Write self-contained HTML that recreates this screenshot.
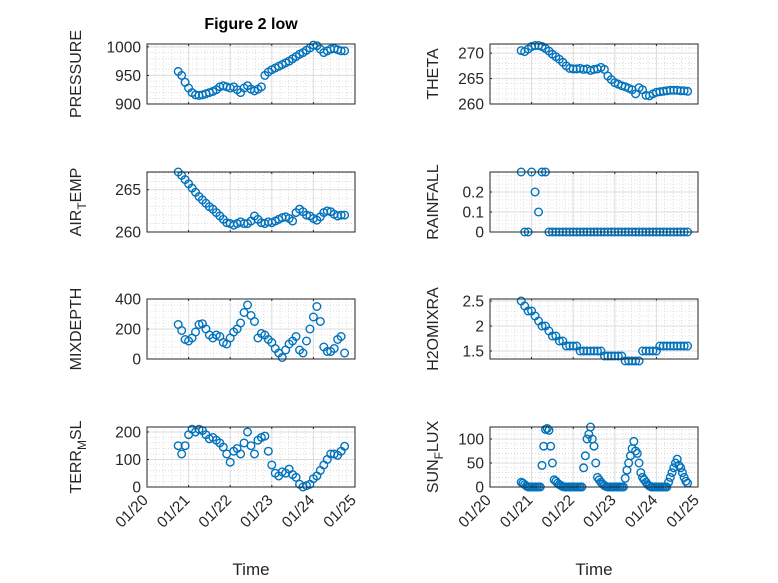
<!DOCTYPE html>
<html><head><meta charset="utf-8">
<style>
html,body{margin:0;padding:0;background:#fff;}
svg{display:block;font-family:"Liberation Sans",sans-serif;}
</style></head>
<body>
<svg id="fig" width="778" height="583" viewBox="0 0 778 583">
<text x="251" y="29" text-anchor="middle" font-size="16" font-weight="bold" fill="#000">Figure 2 low</text>
</svg>
<script>
const hours = [0,2,4,6,8,10,12,14,16,18,20,22,24,26,28,30,32,34,36,38,40,42,44,46,48,50,52,54,56,58,60,62,64,66,68,70,72,74,76,78,80,82,84,86,88,90,92,94,96];
const sunHours = [0,1,2,3,4,5,6,7,8,9,10,11,12,13,14,15,16,17,18,19,20,21,22,23,24,25,26,27,28,29,30,31,32,33,34,35,36,37,38,39,40,41,42,43,44,45,46,47,48,49,50,51,52,53,54,55,56,57,58,59,60,61,62,63,64,65,66,67,68,69,70,71,72,73,74,75,76,77,78,79,80,81,82,83,84,85,86,87,88,89,90,91,92,93,94,95,96];
const startDay = 20.75;
const dayTicks = [20,21,22,23,24,25];
const dayTickLabels = ["01/20","01/21","01/22","01/23","01/24","01/25"];

const pressure = [957,950,938,928,920,916,915,916,918,920,922,925,930,932,930,928,930,925,920,928,932,926,923,926,930,950,956,960,963,966,969,972,975,979,983,987,990,994,998,1003,1002,996,990,993,996,997,995,993,993];
const airTemp = [267.1,266.7,266.2,265.7,265.2,264.7,264.2,263.8,263.4,263.0,262.7,262.3,261.9,261.5,261.1,261.0,260.8,261.0,261.2,261.0,261.0,261.3,261.9,261.5,261.1,261.0,261.2,261.1,261.3,261.5,261.7,261.8,261.6,261.3,262.3,262.7,262.4,262.0,261.9,261.6,261.4,261.8,262.3,262.5,262.4,262.1,261.9,262.0,262.0];
const mixDepth = [230,190,130,120,140,180,230,235,200,160,140,160,150,110,100,140,180,200,240,310,360,290,250,140,170,160,130,110,70,40,10,60,100,120,150,60,40,120,200,280,350,250,80,50,50,70,130,150,40];
const terrMsl = [150,120,150,190,210,200,210,205,190,175,180,170,160,145,120,90,130,140,120,160,200,150,120,170,180,185,130,80,50,40,55,50,65,45,35,10,0,5,10,30,40,60,80,100,120,120,115,130,148];
const theta = [270.5,270.3,270.8,271.3,271.5,271.5,271.3,270.9,270.4,269.8,269.3,268.8,268.2,267.5,267.0,266.9,266.9,267.0,266.8,266.9,266.6,266.8,266.9,267.2,266.8,265.5,264.8,264.2,263.9,263.6,263.4,263.1,262.8,262.0,263.2,262.8,261.7,261.6,262.0,262.3,262.4,262.5,262.6,262.7,262.7,262.7,262.6,262.6,262.5];
const rainfall = [0.3,0,0,0.3,0.2,0.1,0.3,0.3,0,0,0,0,0,0,0,0,0,0,0,0,0,0,0,0,0,0,0,0,0,0,0,0,0,0,0,0,0,0,0,0,0,0,0,0,0,0,0,0,0];
const h2oMix = [2.5,2.4,2.3,2.3,2.2,2.1,2.0,2.0,1.9,1.8,1.8,1.7,1.7,1.6,1.6,1.6,1.6,1.5,1.5,1.5,1.5,1.5,1.5,1.5,1.4,1.4,1.4,1.4,1.4,1.4,1.3,1.3,1.3,1.3,1.3,1.5,1.5,1.5,1.5,1.5,1.6,1.6,1.6,1.6,1.6,1.6,1.6,1.6,1.6];
const sunFlux = [10,8,5,2,0,0,0,0,0,0,0,0,45,85,120,122,118,85,50,15,12,8,5,3,1,0,0,0,0,0,0,0,0,0,0,0,40,65,100,110,125,100,85,50,20,15,10,6,3,1,0,0,0,0,0,0,0,0,0,0,18,35,50,65,80,95,75,70,50,30,20,15,10,5,2,0,0,0,0,0,0,0,0,0,0,10,20,30,40,50,58,45,40,30,20,12,8];

const NS = "http://www.w3.org/2000/svg";
const svg = document.getElementById("fig");
function mk(tag, attrs, parent){
  const e = document.createElementNS(NS, tag);
  for (const k in attrs) e.setAttribute(k, attrs[k]);
  (parent||svg).appendChild(e);
  return e;
}
const panels = [
  {name:"pressure", data:pressure, hrs:hours, x0:147, y0:44, ymin:900, ymax:1005, ticks:[900,950,1000], labels:["900","950","1000"], minor:10, label:["PRESSURE"], bottom:false},
  {name:"theta", data:theta, hrs:hours, x0:490, y0:44, ymin:260, ymax:271.8, ticks:[260,265,270], labels:["260","265","270"], minor:1, label:["THETA"], bottom:false},
  {name:"air-temp", data:airTemp, hrs:hours, x0:147, y0:172, ymin:260, ymax:267.1, ticks:[260,265], labels:["260","265"], minor:1, label:["AIR","T","EMP"], bottom:false},
  {name:"rainfall", data:rainfall, hrs:hours, x0:490, y0:172, ymin:0, ymax:0.3, ticks:[0,0.1,0.2], labels:["0","0.1","0.2"], minor:0.02, label:["RAINFALL"], bottom:false},
  {name:"mixdepth", data:mixDepth, hrs:hours, x0:147, y0:299, ymin:0, ymax:400, ticks:[0,200,400], labels:["0","200","400"], minor:40, label:["MIXDEPTH"], bottom:false},
  {name:"h2o-mix", data:h2oMix, hrs:hours, x0:490, y0:299, ymin:1.34, ymax:2.54, ticks:[1.5,2,2.5], labels:["1.5","2","2.5"], minor:0.1, label:["H2OMIXRA"], bottom:false},
  {name:"terr-msl", data:terrMsl, hrs:hours, x0:147, y0:427, ymin:0, ymax:218, ticks:[0,100,200], labels:["0","100","200"], minor:20, label:["TERR","M","SL"], bottom:true},
  {name:"sun-flux", data:sunFlux, hrs:sunHours, x0:490, y0:427, ymin:0, ymax:125, ticks:[0,50,100], labels:["0","50","100"], minor:10, label:["SUN","F","LUX"], bottom:true}
];
const W = 208, H = 60;
panels.forEach(p => {
  const g = mk("g", {});
  
  
  const xs = d => p.x0 + (d - 20) / 5 * W;
  const ys = v => p.y0 + H - (v - p.ymin) / (p.ymax - p.ymin) * H;
  for (let d = 20; d <= 25.001; d += 0.2) {
    const x = xs(d);
    mk("line", {x1:x, x2:x, y1:p.y0, y2:p.y0+H, stroke:"#c8c8c8", "stroke-width":0.6, "stroke-dasharray":"1,2"}, g);
  }
  const start = Math.ceil(p.ymin / p.minor) * p.minor;
  for (let v = start; v <= p.ymax + 1e-9; v += p.minor) {
    const y = ys(v);
    mk("line", {x1:p.x0, x2:p.x0+W, y1:y, y2:y, stroke:"#c8c8c8", "stroke-width":0.6, "stroke-dasharray":"1,2"}, g);
  }
  dayTicks.forEach(d => {
    const x = xs(d);
    mk("line", {x1:x, x2:x, y1:p.y0, y2:p.y0+H, stroke:"#dcdcdc", "stroke-width":1}, g);
    mk("line", {x1:x, x2:x, y1:p.y0+H, y2:p.y0+H-2, stroke:"#262626", "stroke-width":1}, g);
    mk("line", {x1:x, x2:x, y1:p.y0, y2:p.y0+2, stroke:"#262626", "stroke-width":1}, g);
  });
  p.ticks.forEach((v, i) => {
    const y = ys(v);
    mk("line", {x1:p.x0, x2:p.x0+W, y1:y, y2:y, stroke:"#dcdcdc", "stroke-width":1}, g);
    mk("line", {x1:p.x0, x2:p.x0+2, y1:y, y2:y, stroke:"#262626", "stroke-width":1}, g);
    const t = mk("text", {x:p.x0-6, y:y+5.5, "text-anchor":"end", "font-size":15.5, fill:"#262626"}, g);
    
    
    t.textContent = p.labels[i];
  });
  p.data.forEach((v, i) => {
    const c = mk("circle", {cx:xs(startDay + p.hrs[i]/24), cy:ys(v), r:3.8, fill:"none", stroke:"#0072BD", "stroke-width":1.4}, g);
    
    
  });
  mk("rect", {x:p.x0, y:p.y0, width:W, height:H, fill:"none", stroke:"#262626", "stroke-width":1}, g);
  const lx = p.x0 - (p.x0 < 300 ? 66 : 52);
  const lt = mk("text", {x:lx, y:p.y0+H/2, "text-anchor":"middle", "font-size":16, fill:"#262626", transform:"rotate(-90 "+lx+" "+(p.y0+H/2)+")"}, g);
  
  
  if (p.label.length === 1) { lt.textContent = p.label[0]; }
  else {
    const a = mk("tspan", {}, lt); a.textContent = p.label[0];
    const b = mk("tspan", {dy:5, "font-size":12}, lt); b.textContent = p.label[1];
    const c = mk("tspan", {dy:-5}, lt); c.textContent = p.label[2];
  }
  if (p.bottom) {
    dayTicks.forEach((d, i) => {
      const x = xs(d) + 2, y = p.y0 + H + 14;
      const t = mk("text", {x:x, y:y, "text-anchor":"end", "font-size":15.5, fill:"#262626", transform:"rotate(-45 "+x+" "+y+")"}, g);
      
      
      t.textContent = dayTickLabels[i];
    });
    const xt = mk("text", {x:p.x0+W/2, y:575, "text-anchor":"middle", "font-size":17, fill:"#262626"}, g);
    
    
    xt.textContent = "Time";
  }
});
</script>
</body></html>
